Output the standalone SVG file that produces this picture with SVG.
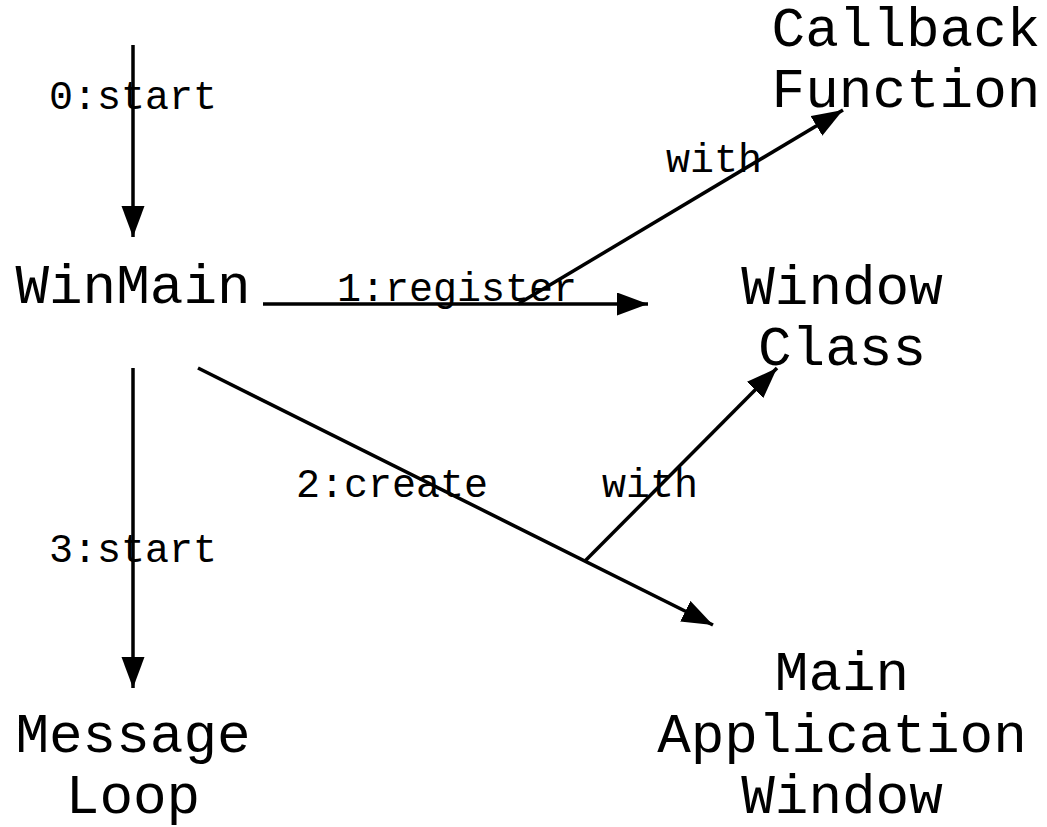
<svg xmlns="http://www.w3.org/2000/svg" width="1047" height="827" viewBox="0 0 1047 827">
<style>
.node{font-family:"Liberation Mono","Courier New",monospace;font-size:56px;fill:#000;text-anchor:middle}
.lbl{font-family:"Liberation Mono","Courier New",monospace;font-size:40px;fill:#000;text-anchor:middle}
.edge{stroke:#000;stroke-width:3.5;fill:none}
</style>
<defs>
<marker id="arr" markerUnits="userSpaceOnUse" markerWidth="32" markerHeight="24" refX="31" refY="11.5" orient="auto">
<path d="M0,0 L31,11.5 L0,23 Z" fill="#000"/>
</marker>
</defs>
<rect width="1047" height="827" fill="#fff"/>
<g id="connectors">
<line class="edge" x1="133" y1="45" x2="133" y2="237" marker-end="url(#arr)"/>
<line class="edge" x1="263" y1="304" x2="648" y2="304" marker-end="url(#arr)"/>
<line class="edge" x1="518" y1="304" x2="843" y2="110" marker-end="url(#arr)"/>
<line class="edge" x1="198" y1="368" x2="713" y2="625" marker-end="url(#arr)"/>
<line class="edge" x1="585" y1="561" x2="777" y2="368" marker-end="url(#arr)"/>
<line class="edge" x1="133" y1="368" x2="133" y2="688" marker-end="url(#arr)"/>
<text class="lbl" x="133" y="109">0:start</text>
<text class="lbl" x="457" y="301">1:register</text>
<text class="lbl" x="714" y="172">with</text>
<text class="lbl" x="392" y="497">2:create</text>
<text class="lbl" x="650" y="497">with</text>
<text class="lbl" x="133" y="562">3:start</text>
</g>
<g id="winmain"><text class="node" x="133" y="303">WinMain</text></g>
<g id="callback"><text class="node" x="906" y="46">Callback</text><text class="node" x="906" y="107">Function</text></g>
<g id="windowclass"><text class="node" x="842" y="304">Window</text><text class="node" x="842" y="365">Class</text></g>
<g id="messageloop"><text class="node" x="133" y="752">Message</text><text class="node" x="133" y="813">Loop</text></g>
<g id="mainwindow"><text class="node" x="842" y="690">Main</text><text class="node" x="842" y="752">Application</text><text class="node" x="842" y="813">Window</text></g>
</svg>
